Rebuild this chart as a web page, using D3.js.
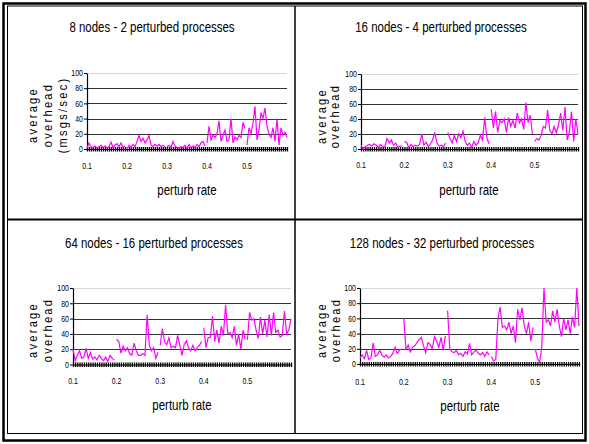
<!DOCTYPE html>
<html lang="en">
<head>
<meta charset="utf-8">
<title>perturb rate overhead</title>
<script src="https://d3js.org/d3.v7.min.js"></script>
<style>
body { margin: 0; background: #fff; }
text { font-family: "Liberation Sans", Arial, sans-serif; }
</style>
</head>
<body>
<script type="text/javascript">
var w = 589;
var h = 444;
var narrow = 0.82;   // no narrow font installed, so squeeze the text sideways

// chart titles
var titles = ["8 nodes - 2 perturbed processes", "16 nodes - 4 perturbed processes",
              "64 nodes - 16 perturbed processes", "128 nodes - 32 perturbed processes"];

var xTickLabels = [0.1, 0.2, 0.3, 0.4, 0.5];
var yTicks = [0, 20, 40, 60, 80, 100];
var segStarts = [0.1, 0.2, 0.3, 0.4, 0.5];   // each perturb-rate run is drawn on its own
var step = 0.005;

// average overhead, one list per segment (0.1-0.2, 0.2-0.3, ...)
var n8 = [
  [1,8,3,2,4,1,3,5,2,4,1,3,9,2,5,7,3,8,2,4],
  [0,5,2,6,3,10,18,10,14,8,12,18,5,3,6,4,6,3,5,2],
  [3,5,2,10,4,2,1,3,2,5,1,6,2,4,2,6,3,8,10,4],
  [8,30,12,18,15,20,37,10,18,25,10,12,40,8,16,12,18,15,35,27],
  [5,28,20,34,56,12,25,48,40,54,30,20,15,28,10,40,5,28,18,22,15]
];
var n16 = [
  [5,0,3,5,6,4,7,5,2,6,3,3,14,8,12,5,8,2,4,4],
  [10,9,2,6,3,5,4,6,20,5,9,3,7,12,22,8,4,5,3,8],
  [22,14,8,18,10,20,15,24,10,5,8,2,10,5,8,18,12,42,15,7],
  [53,28,50,22,38,35,40,22,42,30,38,28,48,35,40,26,62,35,45,20],
  [10,14,12,18,30,28,52,25,20,30,22,32,48,25,56,12,22,50,10,40,20]
];
var n64 = [
  [20,5,12,18,8,10,21,8,16,7,10,6,12,8,5,10,4,12,8,6],
  [33,30,15,24,18,22,14,12,28,18,12,12,14,12,65,25,18,22,8,16],
  [25,47,30,26,35,22,24,22,38,25,12,26,31,22,18,25,18,22,25,30],
  [48,22,35,36,63,30,45,28,50,38,78,40,42,35,50,25,40,20,45,33],
  [32,68,58,60,45,34,62,40,58,36,65,38,68,42,45,36,38,70,40,45,60]
];
var n128 = [
  [8,12,7,18,6,8,28,10,12,18,12,9,12,8,10,14,22,14,18,20],
  [60,18,25,16,22,24,28,32,35,24,15,28,26,20,36,30,22,35,18,37],
  [70,20,16,15,18,12,14,10,16,13,27,12,16,18,14,12,15,10,16,12],
  [10,4,6,60,75,48,50,45,55,40,50,28,72,58,74,50,40,55,30,48],
  [20,8,2,22,100,55,58,50,70,55,72,50,36,60,45,58,40,62,48,100,50]
];
var series = [n8, n16, n64, n128];
var yLabels = [["average", "overhead", "(msgs/sec)"], ["average", "overhead"],
               ["average", "overhead"], ["average", "overhead"]];

// where each small chart sits on the page
var layout = [
  {left: 87, right: 287, top: 73, bottom: 149, titleX: 152, titleY: 32, xlabX: 187, xlabY: 195, tickY: 169, ylabX: [33, 48, 63], ylabY: 115},
  {left: 361, right: 578, top: 74, bottom: 149, titleX: 441, titleY: 32, xlabX: 469, xlabY: 195, tickY: 168, ylabX: [322, 335], ylabY: 116},
  {left: 73, right: 291, top: 288, bottom: 364.5, titleX: 154, titleY: 248, xlabX: 182, xlabY: 410, tickY: 384, ylabX: [33, 48], ylabY: 330},
  {left: 360, right: 579, top: 288, bottom: 364, titleX: 442, titleY: 248, xlabX: 470, xlabY: 411, tickY: 385, ylabX: [322, 336], ylabY: 330}
];

var svg = d3.select("body")
            .append("svg")
            .attr("width", w)
            .attr("height", h);

// frames
svg.append("rect").attr("x", 3.5).attr("y", 3.5).attr("width", 582).attr("height", 437)
   .attr("fill", "none").attr("stroke", "#000").attr("stroke-width", 2.5);
svg.append("rect").attr("x", 7.5).attr("y", 6).attr("width", 575).attr("height", 427.5)
   .attr("fill", "none").attr("stroke", "#000").attr("stroke-width", 1);
svg.append("line").attr("x1", 295).attr("x2", 295).attr("y1", 6).attr("y2", 433.5)
   .attr("stroke", "#000").attr("stroke-width", 1.5);
svg.append("line").attr("x1", 7.5).attr("x2", 582.5).attr("y1", 219.5).attr("y2", 219.5)
   .attr("stroke", "#000").attr("stroke-width", 2);

var denseTicks = d3.range(0, 101).map(function(i) { return 0.1 + i * step; });

// text placed at (x,y), squeezed along its own direction
function label(parent, x, y, rot, size, txt) {
  return parent.append("text")
    .attr("transform", "translate(" + x + "," + y + ") rotate(" + rot + ") scale(" + narrow + ",1)")
    .attr("text-anchor", "middle")
    .attr("font-size", size)
    .attr("fill", "#000")
    .text(txt);
}

layout.forEach(function(L, p) {
  var xScale = d3.scaleLinear().domain([0.1, 0.6]).range([L.left, L.right]);
  var yScale = d3.scaleLinear().domain([0, 100]).range([L.bottom, L.top]);
  var g = svg.append("g");

  // gridlines
  g.selectAll("line.grid")
   .data(yTicks.slice(1))
   .enter()
   .append("line")
   .attr("x1", L.left).attr("x2", L.right)
   .attr("y1", function(d) { return Math.round(yScale(d)) + 0.5; })
   .attr("y2", function(d) { return Math.round(yScale(d)) + 0.5; })
   .attr("stroke", function(d) { return d == 100 ? "#d8d8d8" : "#333"; })
   .attr("stroke-width", 1.2);

  // y axis
  var yAxis = g.append("g")
               .attr("transform", "translate(" + L.left + ",0)")
               .call(d3.axisLeft(yScale).tickValues(yTicks).tickSize(3).tickSizeOuter(0).tickPadding(2));
  yAxis.selectAll("text").attr("font-size", "8.5px").attr("font-family", null)
       .attr("transform", "scale(" + narrow + ",1)");
  yAxis.select(".domain").attr("stroke-width", 1.2);

  // x axis: dense category ticks and the labels
  var xAxis = g.append("g")
               .attr("transform", "translate(0," + L.bottom + ")")
               .call(d3.axisBottom(xScale).tickValues(denseTicks).tickSizeOuter(0).tickFormat(""));
  xAxis.selectAll(".tick line").attr("y1", -2).attr("y2", 2.5).attr("stroke-width", 1.3);
  xAxis.select(".domain").attr("stroke-width", 1.2);

  xTickLabels.forEach(function(d) {
    label(g, xScale(d), L.tickY, 0, "8.5px", d.toFixed(1));
  });

  // the data, one path per run
  var line = d3.line()
               .x(function(d) { return xScale(d.x); })
               .y(function(d) { return yScale(d.v); });
  series[p].forEach(function(vals, s) {
    var pts = vals.map(function(v, i) { return {x: segStarts[s] + i * step, v: v}; });
    g.append("path")
     .datum(pts)
     .attr("d", line)
     .attr("fill", "none")
     .attr("stroke", "#ff00ff")
     .attr("stroke-width", 1.2);
  });

  // titles
  label(g, L.titleX, L.titleY, 0, "14px", titles[p]);
  label(g, L.xlabX, L.xlabY, 0, "14px", "perturb rate");
  yLabels[p].forEach(function(t, k) {
    label(g, L.ylabX[k], L.ylabY, -90, "13.5px", t)
      .attr("dominant-baseline", "central")
      .attr("letter-spacing", "2.8px");
  });
});
</script>
</body>
</html>
